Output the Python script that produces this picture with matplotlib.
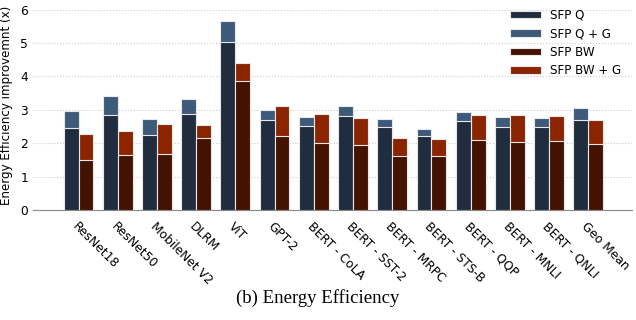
import numpy as np
import matplotlib
matplotlib.use("Agg")
import matplotlib.pyplot as plt

models = ["ResNet18", "ResNet50", "MobileNet V2", "DLRM", "ViT", "GPT-2",
          "BERT - CoLA", "BERT - SST-2", "BERT - MRPC", "BERT - STS-B",
          "BERT - QQP", "BERT - MNLI", "BERT - QNLI", "Geo Mean"]
sfp_q = [2.46, 2.84, 2.24, 2.87, 5.04, 2.70, 2.52, 2.81, 2.48, 2.20, 2.65, 2.49, 2.48, 2.69]
sfp_q_g = [2.96, 3.42, 2.71, 3.32, 5.66, 3.00, 2.78, 3.11, 2.73, 2.43, 2.94, 2.78, 2.76, 3.04]
sfp_bw = [1.51, 1.64, 1.67, 2.16, 3.85, 2.20, 2.00, 1.94, 1.61, 1.61, 2.08, 2.03, 2.06, 1.97]
sfp_bw_g = [2.28, 2.36, 2.57, 2.55, 4.40, 3.10, 2.87, 2.76, 2.14, 2.11, 2.84, 2.85, 2.82, 2.70]

c_q, c_qg = "#1f2d3f", "#3e5a7b"
c_bw, c_bwg = "#431200", "#8a2500"

fig = plt.figure(figsize=(6.36, 3.2), dpi=100)
ax = fig.add_axes([0.052, 0.344, 0.942, 0.652])

x = np.arange(len(models))
w = 0.38
ec = dict(edgecolor="#e8e8e8", linewidth=0.8)
ax.bar(x - w/2, sfp_q_g, w, color=c_qg, label="SFP Q + G", zorder=2, **ec)
ax.bar(x - w/2, sfp_q, w, color=c_q, label="SFP Q", zorder=3, **ec)
ax.bar(x + w/2, sfp_bw_g, w, color=c_bwg, label="SFP BW + G", zorder=2, **ec)
ax.bar(x + w/2, sfp_bw, w, color=c_bw, label="SFP BW", zorder=3, **ec)

ax.set_xlim(-1.16, 14.12)
ax.set_ylim(0, 6.25)
ax.set_yticks(range(7))
ax.grid(axis="y", color="#cccccc", linestyle=":", linewidth=0.8, zorder=0)
ax.set_xticks(x)
ax.set_xticklabels(models, rotation=-45, ha="left", rotation_mode="anchor", fontsize=8.6)
ax.tick_params(axis="both", length=0, labelsize=8.8)
ax.tick_params(axis="x", pad=7)
for s in ["top", "right", "left"]:
    ax.spines[s].set_visible(False)
ax.spines["bottom"].set_color("#888888")
ax.set_ylabel("Energy Efficiency improvemnt (x)", fontsize=8.6, labelpad=5)

h, l = ax.get_legend_handles_labels()
order = [1, 0, 3, 2]
ax.legend([h[i] for i in order], [l[i] for i in order], loc="upper right",
          frameon=False, fontsize=8.6, bbox_to_anchor=(1.0, 1.015),
          handlelength=2.6, handleheight=0.6, labelspacing=0.45)

fig.text(0.5, 0.07, "(b) Energy Efficiency", ha="center", va="center",
         family="Liberation Serif", fontsize=13.5)

fig.savefig("out.png", dpi=100)
